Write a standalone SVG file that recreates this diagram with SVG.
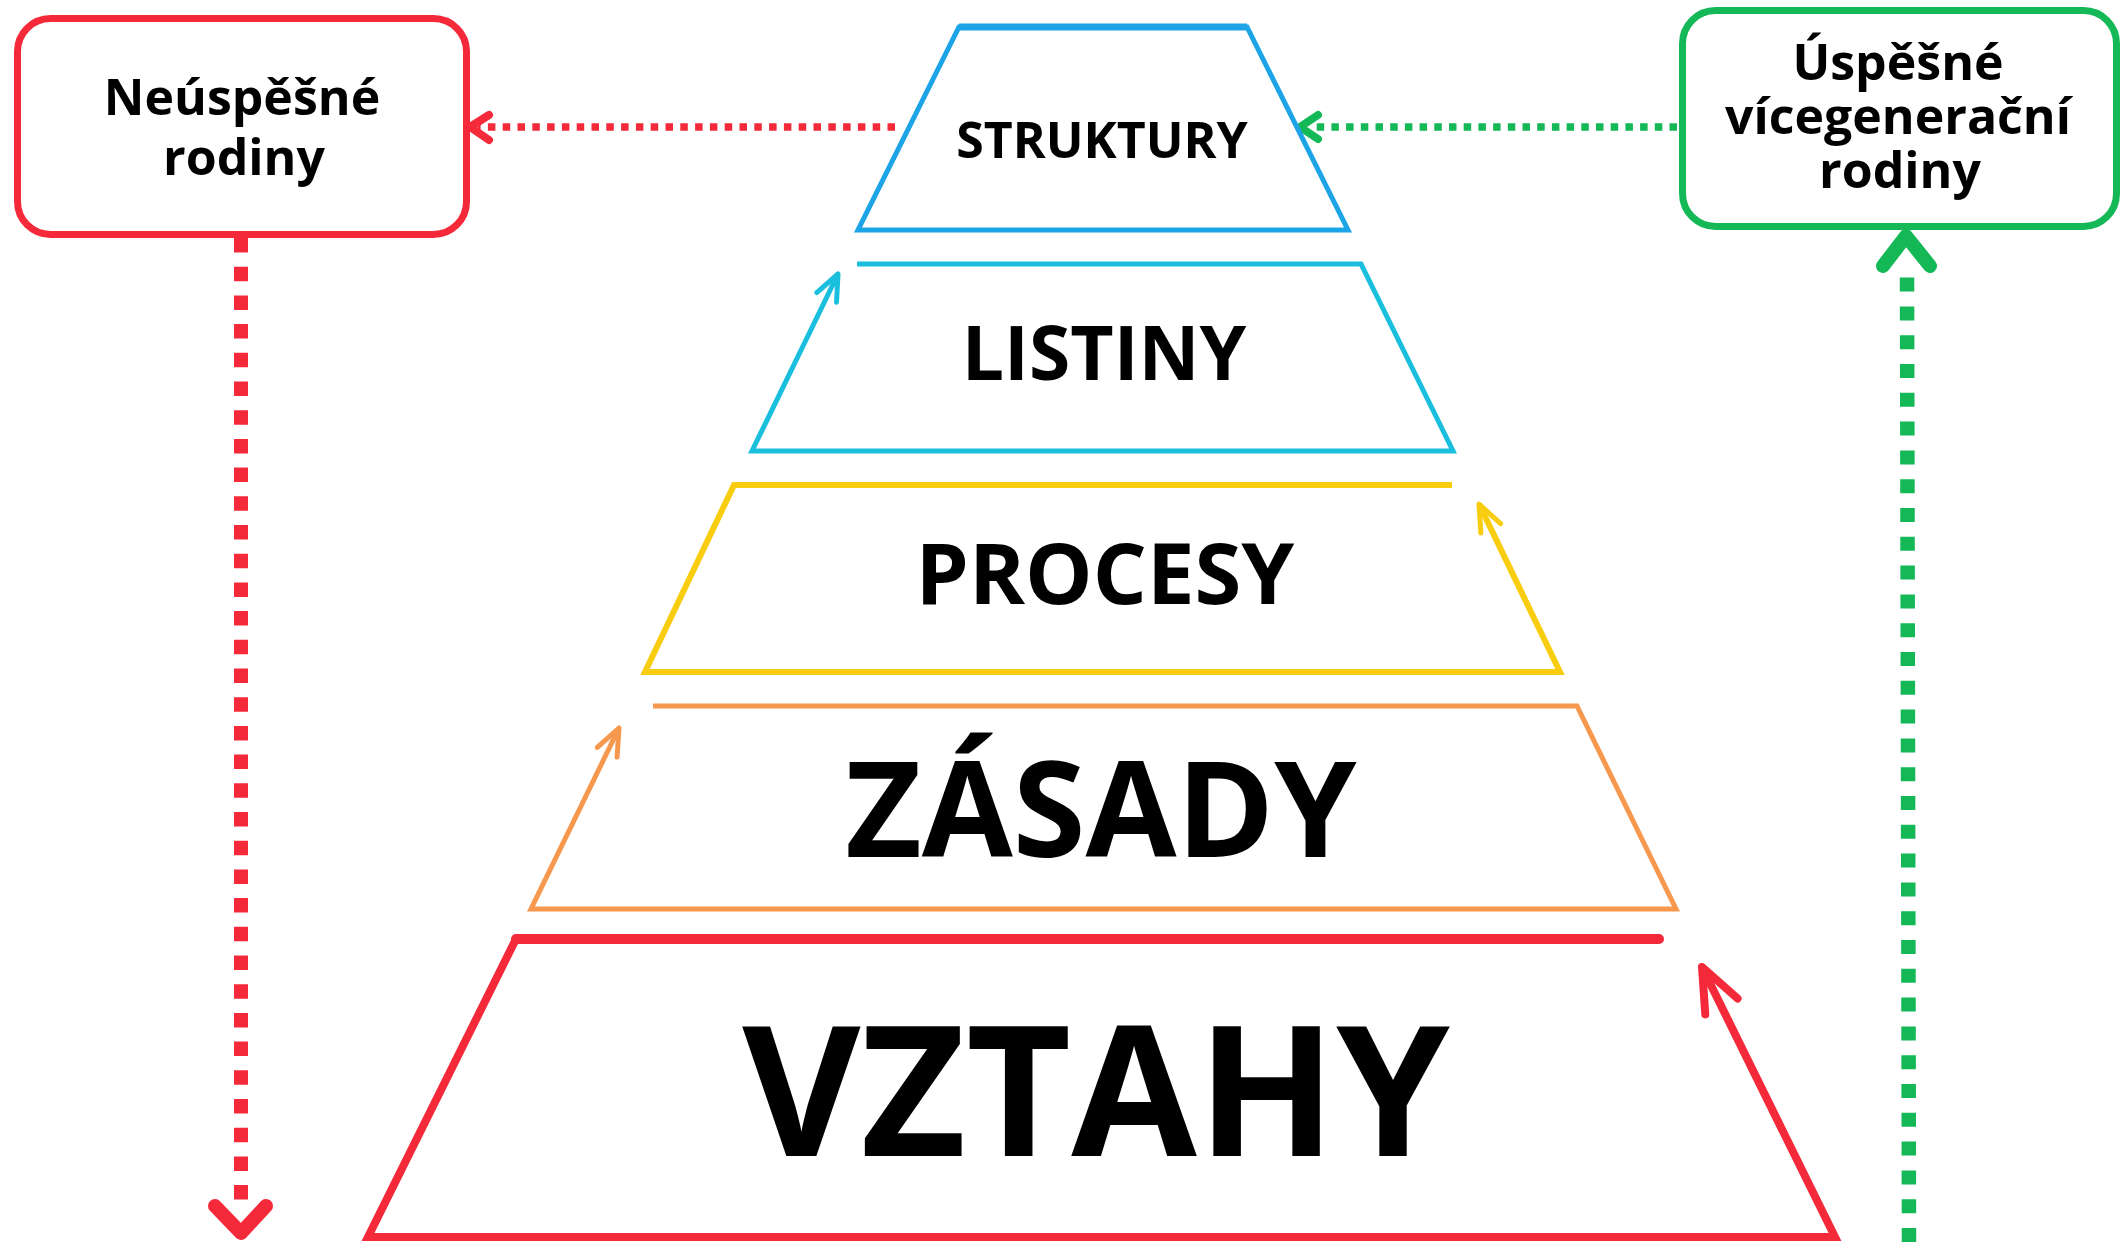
<svg xmlns="http://www.w3.org/2000/svg" width="2124" height="1242" viewBox="0 0 2124 1242">
  <style>
    text { font-family: "Open Sans", "Noto Sans", "DejaVu Sans", sans-serif; font-weight: 700; fill: #000; text-anchor: middle; }
    .box { fill: #fff; stroke-width: 7; }
    .trap { fill: none; stroke-linejoin: miter; stroke-linecap: butt; }
    .dash { fill: none; }
  </style>
  <defs>
    <marker id="ahCyan" markerUnits="userSpaceOnUse" markerWidth="80" markerHeight="80" refX="0" refY="0" orient="auto" overflow="visible">
      <path d="M -26 -11 L 0 0 L -26 11" fill="none" stroke="#19bfdc" stroke-width="5" stroke-linecap="round" stroke-linejoin="round"/>
    </marker>
    <marker id="ahYellow" markerUnits="userSpaceOnUse" markerWidth="80" markerHeight="80" refX="0" refY="0" orient="auto" overflow="visible">
      <path d="M -27 -11 L 0 0 L -27 11" fill="none" stroke="#f8cd10" stroke-width="5" stroke-linecap="round" stroke-linejoin="round"/>
    </marker>
    <marker id="ahOrange" markerUnits="userSpaceOnUse" markerWidth="80" markerHeight="80" refX="0" refY="0" orient="auto" overflow="visible">
      <path d="M -27 -11 L 0 0 L -27 11" fill="none" stroke="#f7984f" stroke-width="5" stroke-linecap="round" stroke-linejoin="round"/>
    </marker>
    <marker id="ahRed" markerUnits="userSpaceOnUse" markerWidth="120" markerHeight="120" refX="0" refY="0" orient="auto" overflow="visible">
      <path d="M -44 -18 L 0 0 L -44 18" fill="none" stroke="#f42a3a" stroke-width="8" stroke-linecap="round" stroke-linejoin="round"/>
    </marker>
  </defs>

  <rect width="2124" height="1242" fill="#ffffff"/>

  <g id="connectors">
    <path class="dash" d="M 895 127 L 478 127" stroke="#f42a3a" stroke-width="7.5" stroke-dasharray="7.5 7.3"/>
    <path d="M 489 115 L 470 127 L 489 140" fill="none" stroke="#f42a3a" stroke-width="8" stroke-linecap="round" stroke-linejoin="round"/>
    <path class="dash" d="M 1677 127 L 1310 127" stroke="#14b857" stroke-width="7.5" stroke-dasharray="7.5 7.2"/>
    <path d="M 1318 115 L 1300 127 L 1318 139" fill="none" stroke="#14b857" stroke-width="8" stroke-linecap="round" stroke-linejoin="round"/>
    <path class="dash" d="M 241 238 L 241 1211.7" stroke="#f42a3a" stroke-width="14" stroke-dasharray="14.5 14.2"/>
    <path d="M 215 1206 L 241 1233 L 266 1206" fill="none" stroke="#f42a3a" stroke-width="14" stroke-linecap="round" stroke-linejoin="round"/>
    <path class="dash" d="M 1909 1242 L 1907 270" stroke="#14b857" stroke-width="14.5" stroke-dasharray="14 14.8"/>
    <path d="M 1883 266 L 1906 236 L 1930 266" fill="none" stroke="#14b857" stroke-width="14" stroke-linecap="round" stroke-linejoin="round"/>
  </g>

  <g id="node-neuspesne">
    <rect class="box" x="17.5" y="18.5" width="449" height="216" rx="33" stroke="#f42a3a"/>
    <text font-size="50"><tspan x="242" y="115">Neúspěšné</tspan><tspan x="244" y="175">rodiny</tspan></text>
  </g>

  <g id="node-uspesne">
    <rect class="box" x="1682.5" y="10.5" width="434" height="216" rx="33" stroke="#14b857"/>
    <text font-size="50"><tspan x="1898" y="80">Úspěšné</tspan><tspan x="1898" y="134">vícegenerační</tspan><tspan x="1900" y="188">rodiny</tspan></text>
  </g>

  <g id="node-struktury">
    <path class="trap" d="M 959 27 L 1247 27 L 1348 230 L 858 230 Z" stroke="#1ca4e7" stroke-width="5"/>
    <line x1="959" y1="27" x2="1247" y2="27" stroke="#1ca4e7" stroke-width="7"/>
    <text x="1102" y="158" font-size="50">STRUKTURY</text>
  </g>

  <g id="node-listiny">
    <path class="trap" d="M 857 264 L 1361 264 L 1453 451 L 752 451 L 838 274" stroke="#19bfdc" stroke-width="5" marker-end="url(#ahCyan)"/>
    <text x="1104" y="380" font-size="75">LISTINY</text>
  </g>

  <g id="node-procesy">
    <path class="trap" d="M 1452 485 L 734 485 L 645 672 L 1560 672 L 1479 504" stroke="#f8cd10" stroke-width="6" marker-end="url(#ahYellow)"/>
    <text x="1105" y="604" font-size="85">PROCESY</text>
  </g>

  <g id="node-zasady">
    <path class="trap" d="M 653 706 L 1577 706 L 1676 909 L 531 909 L 619 728" stroke="#f7984f" stroke-width="5" marker-end="url(#ahOrange)"/>
    <text x="1101" y="857" font-size="132">ZÁSADY</text>
  </g>

  <g id="node-vztahy">
    <path class="trap" d="M 516 939 L 368 1237 L 1835 1237 L 1702 967" stroke="#f42a3a" stroke-width="8" marker-end="url(#ahRed)"/>
    <line x1="516" y1="939" x2="1659" y2="939" stroke="#f42a3a" stroke-width="10" stroke-linecap="round"/>
    <text x="1096" y="1156" font-size="182">VZTAHY</text>
  </g>
</svg>
